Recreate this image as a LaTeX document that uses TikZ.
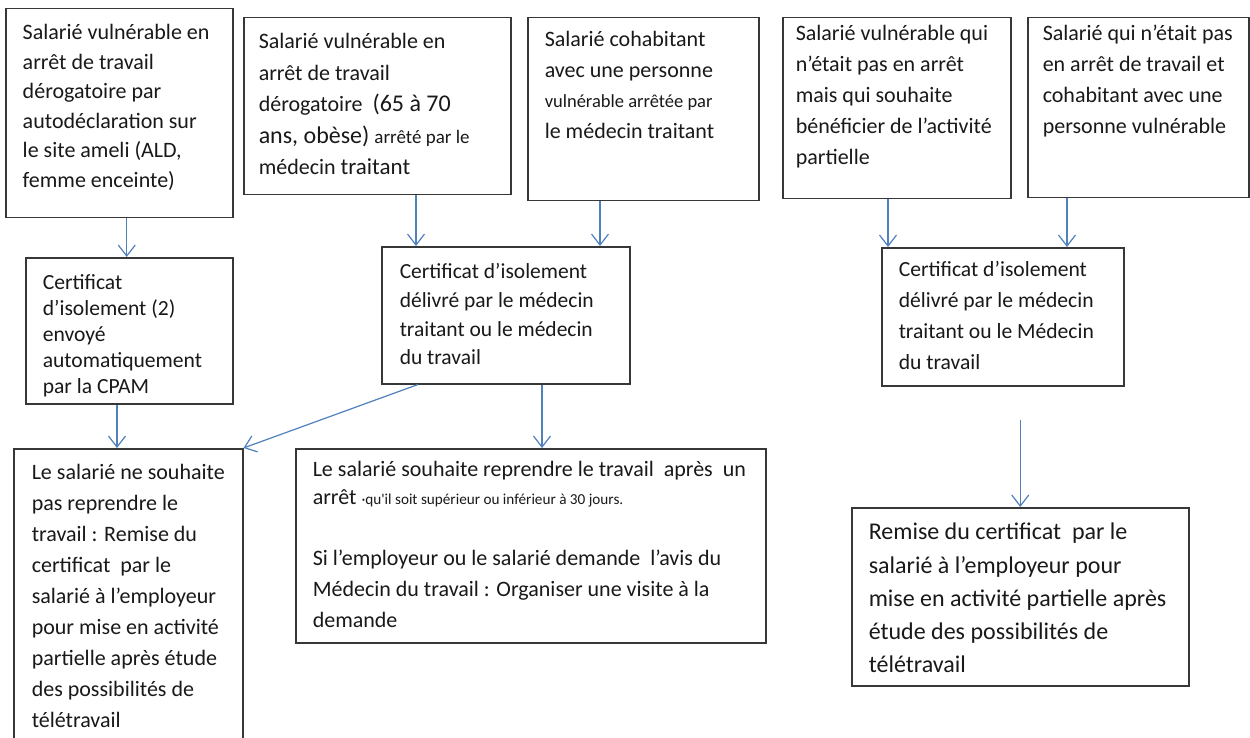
\documentclass[tikz,border=0pt]{standalone}
\usepackage{fontspec}
\setmainfont{Carlito}
\usepackage{tikz}
\usetikzlibrary{arrows.meta,positioning}

\definecolor{bleu}{RGB}{79,129,189}
\definecolor{trait}{RGB}{55,55,55}

\newcommand{\bloc}[1]{{\spaceskip=0pt\xspaceskip=0pt\begin{tabular}[t]{@{}l@{}}#1\end{tabular}}}

\begin{document}
\begin{tikzpicture}
[x=1pt,y=-1pt,
cadre/.style={draw=trait,line width=1.5pt,rectangle,anchor=north west,inner ysep=0pt,inner xsep=17pt,text=black!90},
fleche/.style={draw=bleu,line width=1.2pt,-{Straight Barb[length=11pt,width=17pt]}}]

\useasboundingbox (0,0) rectangle (1250,738);
\fill[white] (0,0) rectangle (1250,738);
\clip (0,0) rectangle (1250,738);

\node[cadre,text width=193pt,text height=31pt,text depth=178pt,font=\fontsize{22}{29.5}\selectfont] (A) at (5,8) {\bloc{Salarié vulnérable en\\arrêt de travail\\dérogatoire par\\autodéclaration sur\\le site ameli (ALD,\\femme enceinte)}};

\node[cadre,inner xsep=15pt,text width=237pt,text height=31pt,text depth=146pt,font=\fontsize{22}{31.5}\selectfont] (B) at (243,17) {\bloc{Salarié vulnérable en\\arrêt de travail\\dérogatoire~ {\fontsize{24}{31.5}\selectfont(65 à 70}\\{\fontsize{24}{31.5}\selectfont ans, obèse)} {\fontsize{19}{31.5}\selectfont arrêté par le}\\médecin {\fontsize{23}{31.5}\selectfont traitant}}};

\node[cadre,text width=197pt,text height=29pt,text depth=154pt,font=\fontsize{22}{30.5}\selectfont] (C) at (527,17) {\bloc{Salarié cohabitant\\avec une personne\\{\fontsize{18.5}{30.5}\selectfont vulnérable arrêtée par}\\le médecin traitant}};

\node[cadre,inner xsep=13pt,text width=202pt,text height=23pt,text depth=158pt,font=\fontsize{22}{31}\selectfont] (D) at (782,17) {\bloc{Salarié vulnérable qui\\n’était pas en arrêt\\mais qui souhaite\\bénéficier de l’activité\\partielle}};

\node[cadre,inner xsep=15pt,text width=191pt,text height=23pt,text depth=157pt,font=\fontsize{22}{31}\selectfont] (E) at (1027,17) {\bloc{Salarié qui n’était pas\\en arrêt de travail et\\cohabitant avec une\\personne vulnérable}};

\node[cadre,text width=173pt,text height=32pt,text depth=114pt,font=\fontsize{21.6}{26}\selectfont] (certA) at (25,257) {\bloc{Certificat\\d’isolement (2)\\envoyé\\automatiquement\\par la CPAM}};

\node[cadre,inner xsep=18pt,text width=212pt,text height=32pt,text depth=105pt,font=\fontsize{21.5}{28.7}\selectfont] (certB) at (381,246) {\bloc{Certificat d’isolement\\délivré par le médecin\\traitant ou le médecin\\du travail}};

\node[cadre,text width=208pt,text height=29pt,text depth=109pt,font=\fontsize{21.6}{31}\selectfont] (certC) at (881,247) {\bloc{Certificat d’isolement\\délivré par le médecin\\traitant ou le Médecin\\du travail}};

\node[cadre,inner xsep=18pt,text width=193pt,text height=31pt,text depth=269pt,font=\fontsize{22}{31}\selectfont] (refus) at (13,448) {\bloc{Le salarié ne souhaite\\pas reprendre le\\travail : Remise du\\certificat~ par le\\salarié à l’employeur\\pour mise en activité\\partielle après étude\\des possibilités de\\télétravail}};

\node[cadre,text width=436pt,text height=28pt,text depth=166pt,font=\fontsize{22}{31}\selectfont] (reprise) at (295,448) {\bloc{Le salarié souhaite reprendre le travail~ après~ un\\[-3pt]arrêt {\fontsize{15.2}{31}\selectfont ·qu\textquotesingle il soit supérieur ou inférieur à 30 jours.}\\[30pt]Si l’employeur ou le salarié demande~ l’avis du\\Médecin du travail : Organiser une visite à la\\demande}};

\node[cadre,text width=303pt,text height=32pt,text depth=146pt,font=\fontsize{24}{33.3}\selectfont] (remise) at (851,507) {\bloc{Remise du certificat~ par le\\salarié à l’employeur pour\\mise en activité partielle après\\étude des possibilités de\\télétravail}};

\coordinate (a1) at ([xshift=-2.5pt]certA.north);
\coordinate (b1) at ([xshift=35pt]certB.north west);
\coordinate (b2) at ([xshift=219pt]certB.north west);
\coordinate (c1) at ([xshift=7pt]certC.north west);
\coordinate (c2) at ([xshift=186pt]certC.north west);
\coordinate (f1) at ([xshift=104pt]refus.north west);
\coordinate (g1) at ([xshift=247pt]reprise.north west);

\draw[fleche] (a1 |- A.south) -- (a1);
\draw[fleche] (b1 |- B.south) -- (b1);
\draw[fleche] (b2 |- C.south) -- (b2);
\draw[fleche] (c1 |- D.south) -- (c1);
\draw[fleche] (c2 |- E.south) -- (c2);
\draw[fleche] (f1 |- certA.south) -- (f1);
\draw[fleche] ([xshift=37pt]certB.south west) -- (refus.north east);
\draw[fleche] (g1 |- certB.south) -- (g1);
\draw[fleche,shorten <=33pt] (remise.north |- certC.south) -- (remise.north);
\end{tikzpicture}
\end{document}
